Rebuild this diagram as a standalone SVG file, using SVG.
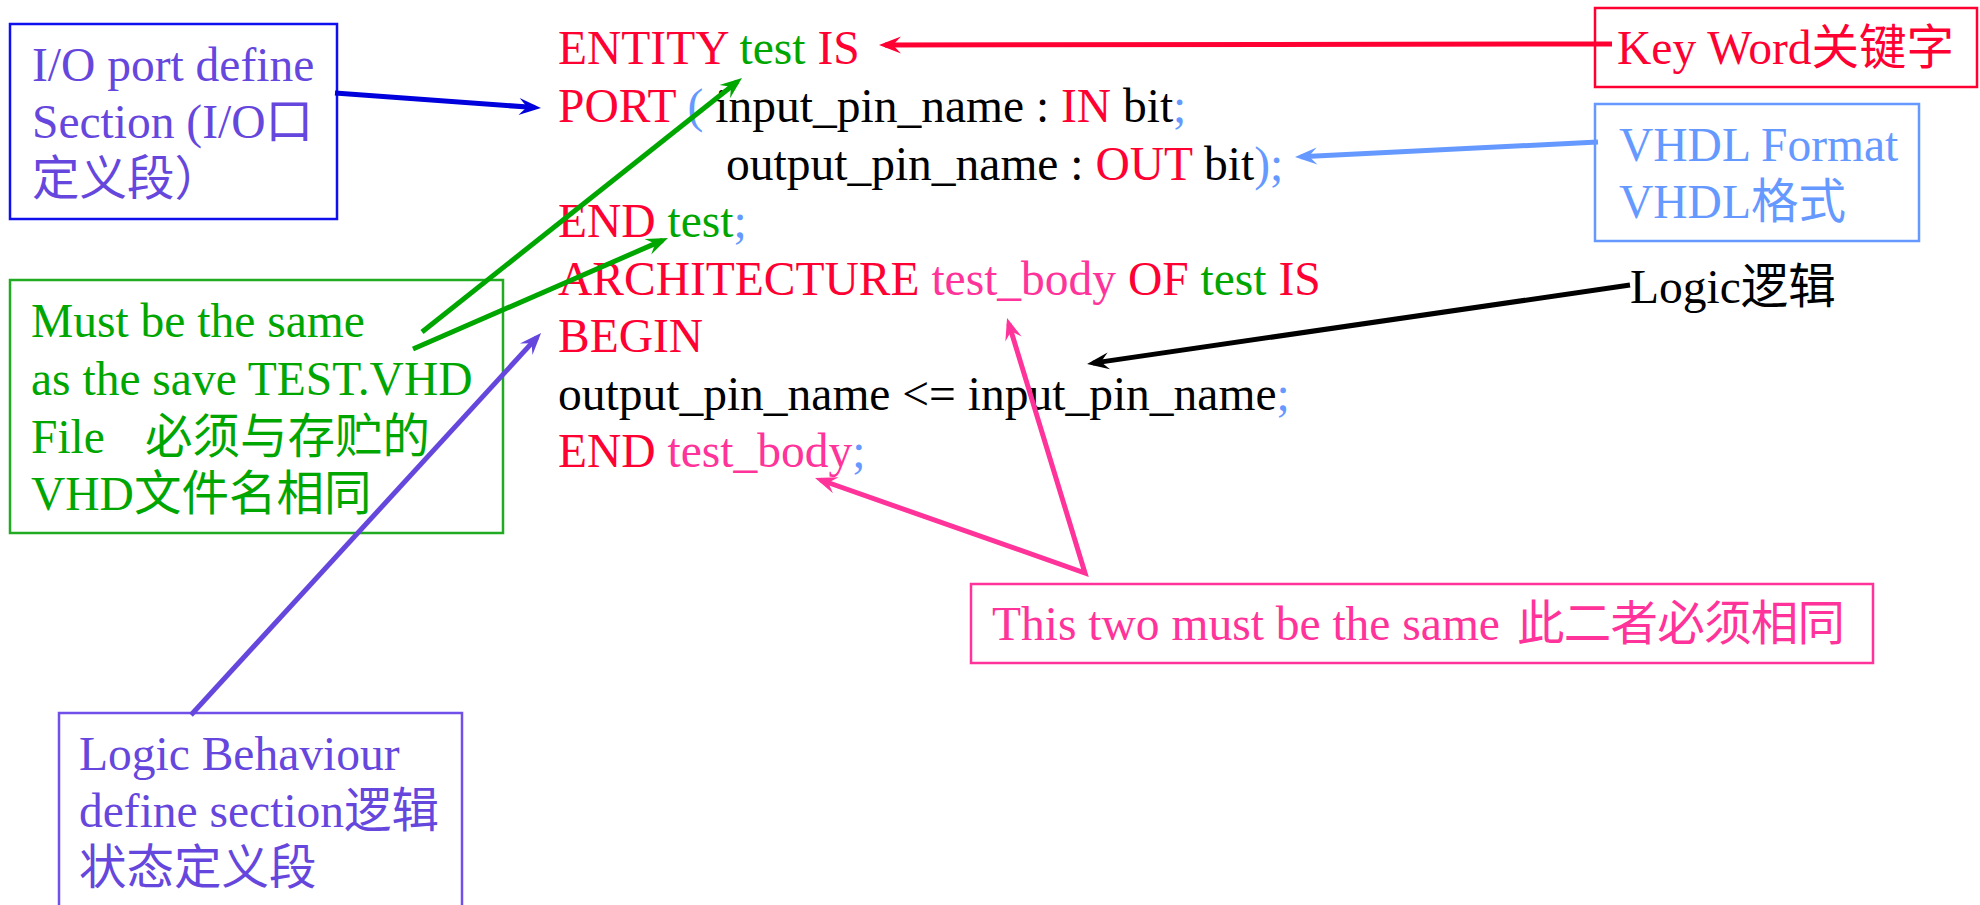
<svg xmlns="http://www.w3.org/2000/svg" width="1980" height="905" viewBox="0 0 1980 905">
  <style>
    text { font-family: "Liberation Serif", "Noto Sans CJK SC", serif; font-size: 47.5px; }
    .r { fill: #FF0033; }
    .g { fill: #00A600; }
    .b { fill: #6699FF; }
    .k { fill: #000000; }
    .p { fill: #FF3399; }
    .v { fill: #6647DD; }
    .box { fill: none; stroke-width: 2.5; }
    .ln { fill: none; stroke-width: 5; stroke-linejoin: miter; }
  </style>
  <defs>
    <marker id="ah-blue" viewBox="-24 -10 30 20" refX="-6" refY="0" markerWidth="30" markerHeight="20" markerUnits="userSpaceOnUse" orient="auto-start-reverse">
      <path d="M0,0 L-22,-8.5 L-14,0 L-22,8.5 Z" fill="#0000DD"/>
    </marker>
    <marker id="ah-red" viewBox="-24 -10 30 20" refX="-6" refY="0" markerWidth="30" markerHeight="20" markerUnits="userSpaceOnUse" orient="auto-start-reverse">
      <path d="M0,0 L-22,-8.5 L-14,0 L-22,8.5 Z" fill="#FF0033"/>
    </marker>
    <marker id="ah-lblue" viewBox="-24 -10 30 20" refX="-6" refY="0" markerWidth="30" markerHeight="20" markerUnits="userSpaceOnUse" orient="auto-start-reverse">
      <path d="M0,0 L-22,-8.5 L-14,0 L-22,8.5 Z" fill="#6699FF"/>
    </marker>
    <marker id="ah-black" viewBox="-24 -10 30 20" refX="-6" refY="0" markerWidth="30" markerHeight="20" markerUnits="userSpaceOnUse" orient="auto-start-reverse">
      <path d="M0,0 L-22,-8.5 L-14,0 L-22,8.5 Z" fill="#000000"/>
    </marker>
    <marker id="ah-green" viewBox="-24 -10 30 20" refX="-6" refY="0" markerWidth="30" markerHeight="20" markerUnits="userSpaceOnUse" orient="auto-start-reverse">
      <path d="M0,0 L-22,-8.5 L-14,0 L-22,8.5 Z" fill="#00A600"/>
    </marker>
    <marker id="ah-purple" viewBox="-24 -10 30 20" refX="-6" refY="0" markerWidth="30" markerHeight="20" markerUnits="userSpaceOnUse" orient="auto-start-reverse">
      <path d="M0,0 L-22,-8.5 L-14,0 L-22,8.5 Z" fill="#6647DD"/>
    </marker>
    <marker id="ah-pink" viewBox="-24 -10 30 20" refX="-6" refY="0" markerWidth="30" markerHeight="20" markerUnits="userSpaceOnUse" orient="auto-start-reverse">
      <path d="M0,0 L-22,-8.5 L-14,0 L-22,8.5 Z" fill="#FF3399"/>
    </marker>
  </defs>

  <rect width="1980" height="905" fill="#FFFFFF"/>

  <!-- VHDL source listing -->
  <g id="code">
    <text x="558" y="64"><tspan class="r">ENTITY </tspan><tspan class="g">test </tspan><tspan class="r">IS</tspan></text>
    <text x="558" y="122"><tspan class="r">PORT </tspan><tspan class="b">(</tspan><tspan class="k"> input_pin_name : </tspan><tspan class="r">IN </tspan><tspan class="k">bit</tspan><tspan class="b">;</tspan></text>
    <text x="726" y="180"><tspan class="k">output_pin_name : </tspan><tspan class="r">OUT </tspan><tspan class="k">bit</tspan><tspan class="b">);</tspan></text>
    <text x="558" y="237"><tspan class="r">END </tspan><tspan class="g">test</tspan><tspan class="b">;</tspan></text>
    <text x="558" y="295"><tspan class="r">ARCHITECTURE </tspan><tspan class="p">test_body </tspan><tspan class="r">OF </tspan><tspan class="g">test </tspan><tspan class="r">IS</tspan></text>
    <text x="558" y="352"><tspan class="r">BEGIN</tspan></text>
    <text x="558" y="410"><tspan class="k">output_pin_name &lt;= input_pin_name</tspan><tspan class="b">;</tspan></text>
    <text x="558" y="467"><tspan class="r">END </tspan><tspan class="p">test_body</tspan><tspan class="b">;</tspan></text>
  </g>

  <!-- annotation boxes -->
  <g id="io-port">
    <rect class="box" x="10" y="24" width="327" height="195" stroke="#1010EE"/>
    <text class="v" x="32" y="81">I/O port define</text>
    <text class="v" x="32" y="138">Section (I/O口</text>
    <text class="v" x="32" y="195">定义段）</text>
  </g>

  <g id="same-name">
    <rect class="box" x="10" y="280" width="493" height="253" stroke="#22AA22"/>
    <text class="g" x="31" y="337">Must be the same</text>
    <text class="g" x="31" y="395">as the save TEST.VHD</text>
    <text class="g" x="31" y="453">File<tspan x="145">必须与存贮的</tspan></text>
    <text class="g" x="31" y="510">VHD文件名相同</text>
  </g>

  <g id="keyword">
    <rect class="box" x="1595" y="8" width="382" height="79" stroke="#FF0033"/>
    <text class="r" x="1617" y="64">Key Word关键字</text>
  </g>

  <g id="format">
    <rect class="box" x="1595" y="104" width="324" height="137" stroke="#6699FF"/>
    <text class="b" x="1619" y="161">VHDL Format</text>
    <text class="b" x="1619" y="218">VHDL格式</text>
  </g>

  <g id="logic">
    <text class="k" x="1630" y="303">Logic逻辑</text>
  </g>

  <g id="two-same">
    <rect class="box" x="971" y="584" width="902" height="79" stroke="#FF3399"/>
    <text class="p" x="992" y="640">This two must be the same</text>
    <text class="p" x="1517" y="640" textLength="328" lengthAdjust="spacing">此二者必须相同</text>
  </g>

  <g id="behaviour">
    <rect class="box" x="59" y="713" width="403" height="200" stroke="#7050E8"/>
    <text class="v" x="79" y="770">Logic Behaviour</text>
    <text class="v" x="79" y="827">define section逻辑</text>
    <text class="v" x="79" y="884">状态定义段</text>
  </g>

  <!-- connectors -->
  <g id="connectors">
    <line class="ln" x1="335" y1="93" x2="535" y2="107.6" stroke="#0000DD" marker-end="url(#ah-blue)"/>
    <line class="ln" x1="1612" y1="44" x2="885" y2="45" stroke="#FF0033" stroke-width="4.5" marker-end="url(#ah-red)"/>
    <line class="ln" x1="1598" y1="142" x2="1301" y2="156.7" stroke="#6699FF" marker-end="url(#ah-lblue)"/>
    <line class="ln" x1="1630" y1="285" x2="1093" y2="363.1" stroke="#000000" stroke-width="4.5" marker-end="url(#ah-black)"/>
    <line class="ln" x1="422" y1="332" x2="737.3" y2="81.7" stroke="#00A600" marker-end="url(#ah-green)"/>
    <line class="ln" x1="413" y1="349" x2="662.5" y2="240.4" stroke="#00A600" marker-end="url(#ah-green)"/>
    <line class="ln" x1="191" y1="715" x2="537" y2="337.4" stroke="#6647DD" stroke-width="4" marker-end="url(#ah-purple)"/>
    <polyline class="ln" points="820.7,480 1085,573 1008.8,323.7" stroke="#FF3399" marker-start="url(#ah-pink)" marker-end="url(#ah-pink)"/>
  </g>
</svg>
